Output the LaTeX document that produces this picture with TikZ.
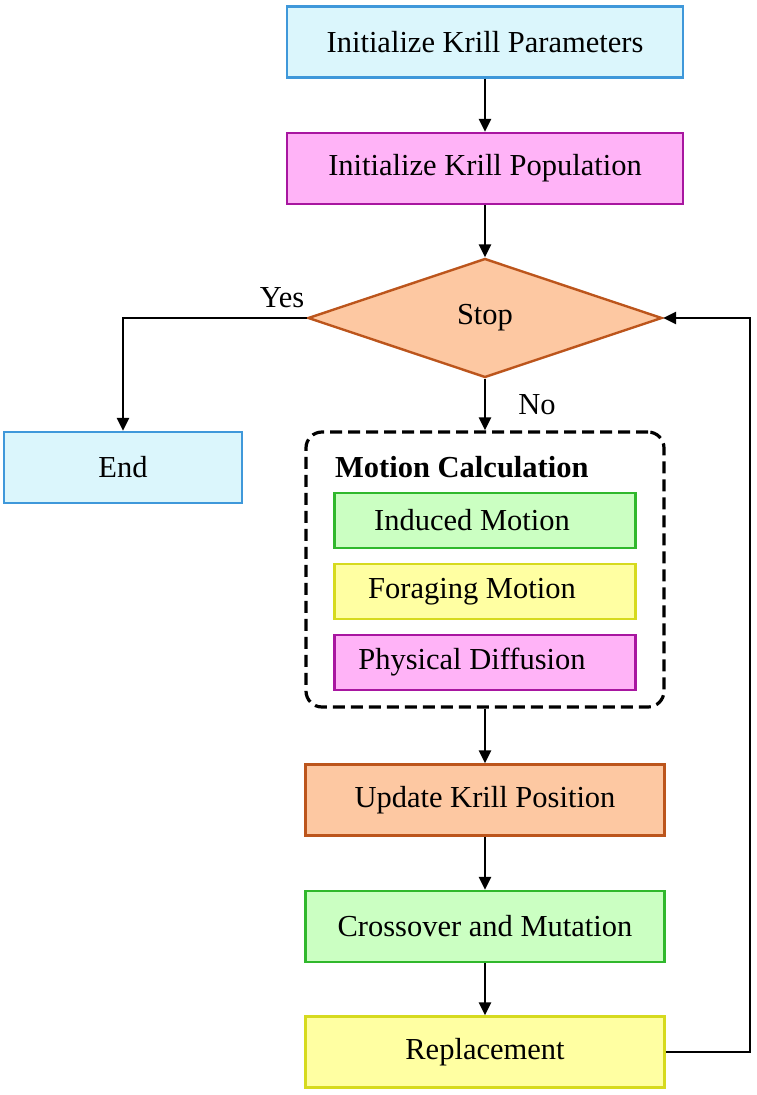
\documentclass[tikz,border=0pt]{standalone}
\usepackage{fontspec}
\setmainfont{Liberation Serif}
\usetikzlibrary{arrows.meta,shapes.geometric}
\definecolor{cyanF}{HTML}{DBF6FC}
\definecolor{cyanB}{HTML}{3F98DA}
\definecolor{pinkF}{HTML}{FFB3F7}
\definecolor{pinkB}{HTML}{A816A0}
\definecolor{orF}{HTML}{FDC8A2}
\definecolor{orB}{HTML}{BC551C}
\definecolor{grF}{HTML}{CBFFC2}
\definecolor{grB}{HTML}{30B82C}
\definecolor{yeF}{HTML}{FFFFA2}
\definecolor{yeB}{HTML}{D6DA1E}
\begin{document}
\begin{tikzpicture}[x=1pt,y=-1pt,
  every node/.style={font=\fontsize{30.5}{36}\selectfont, inner sep=0pt},
  box/.style={draw, line width=2.4pt, rectangle, minimum width=359pt, minimum height=71pt},
  sub/.style={draw, line width=2.4pt, rectangle, minimum width=301pt, minimum height=55pt},
  conn/.style={line width=2.6pt, -{Triangle[length=13pt,width=12pt]}},
  plain/.style={line width=2.6pt}]
\useasboundingbox (0,0) rectangle (757,1095);
\node[box, fill=cyanF, draw=cyanB, minimum width=396pt] (params) at (485,42) {Initialize Krill Parameters};
\node[box, fill=pinkF, draw=pinkB, minimum width=396pt] (pop) at (485,168.5) {Initialize Krill Population};
\node[diamond, draw=orB, fill=orF, line width=2.4pt, minimum width=354pt, minimum height=119pt, aspect=2.97] (stop) at (485,318) {Stop};
\node[box, fill=cyanF, draw=cyanB, minimum width=238pt] (end) at (123,467.5) {End};
\node[draw, line width=3.2pt, dash pattern=on 12pt off 6pt, rounded corners=16pt, minimum width=358pt, minimum height=275pt] (motion) at (485,569.5) {};
\node[anchor=west, font=\fontsize{30.5}{36}\selectfont\bfseries] (mtitle) at (335,467) {Motion Calculation};
\node[sub, fill=grF, draw=grB] (ind) at (485,520.5) {};
\node (indt) at (472,520.5) {Induced Motion};
\node[sub, fill=yeF, draw=yeB] (for) at (485,591.5) {};
\node (fort) at (472,591.5) {Foraging Motion};
\node[sub, fill=pinkF, draw=pinkB] (phy) at (485,662.5) {};
\node (phyt) at (472,662.5) {Physical Diffusion};
\node[box, fill=orF, draw=orB] (upd) at (485,800) {Update Krill Position};
\node[box, fill=grF, draw=grB] (cross) at (485,926.5) {Crossover and Mutation};
\node[box, fill=yeF, draw=yeB] (rep) at (485,1052) {Replacement};
\node (yes) at (282,298) {Yes};
\node (no) at (537,405) {No};
\coordinate (fb1) at (750,1052);
\coordinate (fb2) at (750,318);
\coordinate (yl) at (123,318);
\draw[conn] (params.south) -- (pop.north);
\draw[conn] (pop.south) -- (stop.north);
\draw[conn] (stop.west) -- (yl) -- (end.north);
\draw[conn] (stop.south) -- (motion.north);
\draw[conn] (motion.south) -- (upd.north);
\draw[conn] (upd.south) -- (cross.north);
\draw[conn] (cross.south) -- (rep.north);
\draw[conn] (rep.east) -- (fb1) -- (fb2) -- (stop.east);
\end{tikzpicture}
\end{document}
